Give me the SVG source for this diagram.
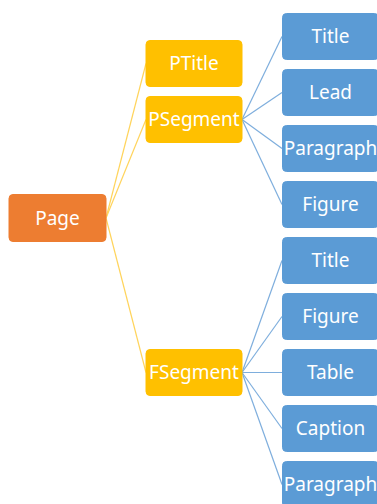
<svg xmlns="http://www.w3.org/2000/svg" width="377" height="504" viewBox="0 0 377 504">
<style>
.n text{font-family:"Noto Sans","DejaVu Sans",sans-serif;font-size:19px;fill:#fff;text-anchor:middle}
.o rect{fill:#ED7D31;stroke:#ED7D31}
.y rect{fill:#FFC000;stroke:#FFC000}
.b rect{fill:#5B9BD5;stroke:#5B9BD5}
.yl line{stroke:#FFD45C;stroke-width:1.2}
.bl line{stroke:#7EAEDD;stroke-width:1.2}
</style>
<rect width="377" height="504" fill="#fff"/>
<g id="connectors">
<g class="yl">
<line x1="106" y1="218" x2="146" y2="63.5"/>
<line x1="106" y1="218" x2="146" y2="119.5"/>
<line x1="106" y1="218" x2="146" y2="372.5"/>
</g>
<g class="bl">
<line x1="242" y1="119.5" x2="282" y2="36.5"/>
<line x1="242" y1="119.5" x2="282" y2="92.5"/>
<line x1="242" y1="119.5" x2="282" y2="148.5"/>
<line x1="242" y1="119.5" x2="282" y2="204.5"/>
<line x1="242" y1="372.5" x2="282" y2="260.5"/>
<line x1="242" y1="372.5" x2="282" y2="316.5"/>
<line x1="242" y1="372.5" x2="282" y2="372.5"/>
<line x1="242" y1="372.5" x2="282" y2="428.5"/>
<line x1="242" y1="372.5" x2="282" y2="484.5"/>
</g>
</g>
<g id="page" class="n o"><rect x="9" y="194.5" width="97" height="47" rx="4"/><text x="57.5" y="224.5">Page</text></g>
<g id="ptitle" class="n y"><rect x="146" y="40.5" width="96" height="46" rx="4"/><text x="194" y="70">PTitle</text></g>
<g id="psegment" class="n y"><rect x="146" y="96.5" width="96" height="46" rx="4"/><text x="194" y="126">PSegment</text></g>
<g id="fsegment" class="n y"><rect x="146" y="349.5" width="96" height="46" rx="4"/><text x="194" y="379">FSegment</text></g>
<g id="p-title" class="n b"><rect x="282.5" y="13.5" width="96" height="46" rx="4"/><text x="330.5" y="43">Title</text></g>
<g id="p-lead" class="n b"><rect x="282.5" y="69.5" width="96" height="46" rx="4"/><text x="330.5" y="99">Lead</text></g>
<g id="p-paragraph" class="n b"><rect x="282.5" y="125.5" width="96" height="46" rx="4"/><text x="330.5" y="155">Paragraph</text></g>
<g id="p-figure" class="n b"><rect x="282.5" y="181.5" width="96" height="46" rx="4"/><text x="330.5" y="211">Figure</text></g>
<g id="f-title" class="n b"><rect x="282.5" y="237.5" width="96" height="46" rx="4"/><text x="330.5" y="267">Title</text></g>
<g id="f-figure" class="n b"><rect x="282.5" y="293.5" width="96" height="46" rx="4"/><text x="330.5" y="323">Figure</text></g>
<g id="f-table" class="n b"><rect x="282.5" y="349.5" width="96" height="46" rx="4"/><text x="330.5" y="379">Table</text></g>
<g id="f-caption" class="n b"><rect x="282.5" y="405.5" width="96" height="46" rx="4"/><text x="330.5" y="435">Caption</text></g>
<g id="f-paragraph" class="n b"><rect x="282.5" y="461.5" width="96" height="46" rx="4"/><text x="330.5" y="491">Paragraph</text></g>
</svg>
